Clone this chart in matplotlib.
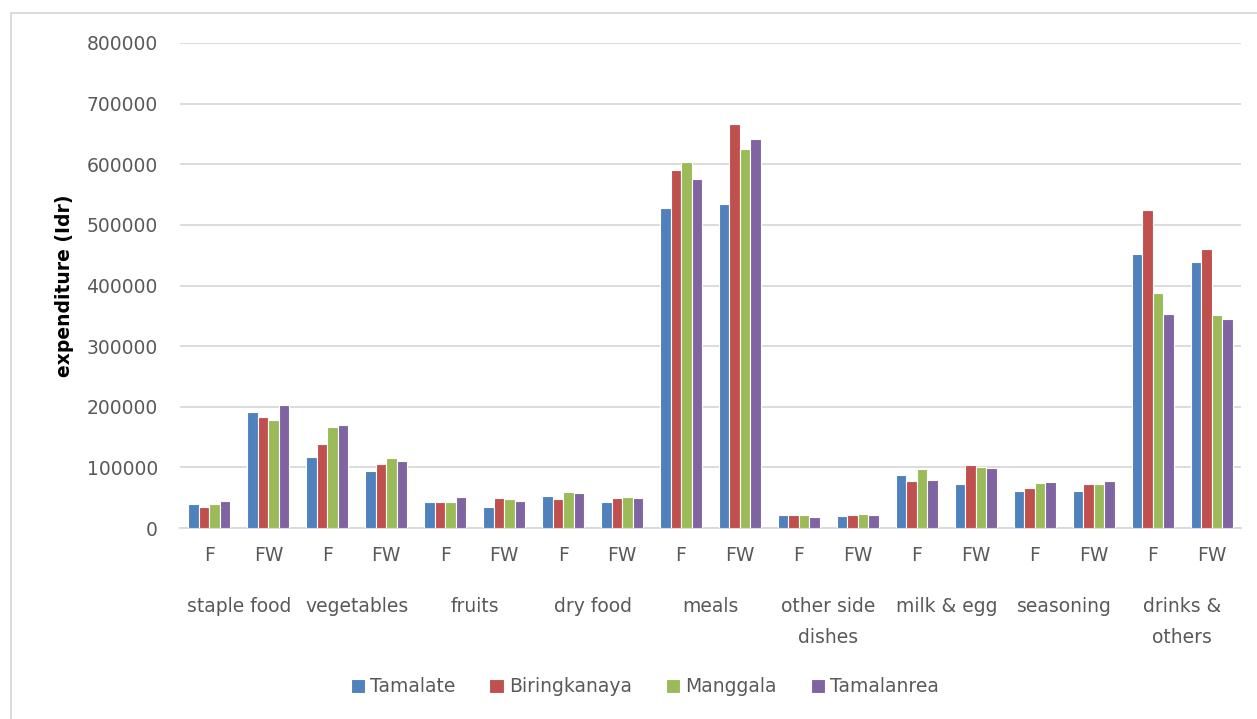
import numpy as np
import matplotlib
matplotlib.use("Agg")
import matplotlib.pyplot as plt
from matplotlib.patches import Rectangle

# food groups, each measured as F and FW
groups = ["staple food", "vegetables", "fruits", "dry food", "meals",
          "other side\ndishes", "milk & egg", "seasoning", "drinks &\nothers"]
sub_labels = ["F", "FW"]

districts = ["Tamalate", "Biringkanaya", "Manggala", "Tamalanrea"]
colors = ["#4F81BD", "#C0504D", "#9BBB59", "#8064A2"]

# expenditure per category (F, FW for each group in order)
tamalate = [40000, 190700, 117000, 94000, 43500, 34400, 52000, 43700, 527700,
            533700, 21300, 20200, 86900, 72100, 61200, 61700, 452300, 439100]
biringkanaya = [34500, 183000, 138000, 106000, 43500, 50000, 48600, 49000, 590000,
                666800, 21900, 21900, 78100, 104400, 66100, 73200, 524700, 460500]
manggala = [39000, 178000, 166000, 115500, 43500, 48000, 59500, 51000, 603300,
            625200, 20800, 22400, 96700, 100000, 74900, 72100, 387600, 352000]
tamalanrea = [44000, 203000, 170000, 111000, 51500, 45000, 58500, 50000, 575300,
              641600, 18000, 21900, 79200, 98400, 75400, 77600, 353600, 344800]
series = [tamalate, biringkanaya, manggala, tamalanrea]

TEXT = "#595959"
GRID = "#D9D9D9"
plt.rcParams["font.family"] = ["DejaVu Sans"]

fig = plt.figure(figsize=(12.57, 7.19), dpi=100)
ax = fig.add_axes([180 / 1257, 191 / 719, 1061 / 1257, 485 / 719])

n = len(tamalate)
x = np.arange(n)
w = 0.178
for i, (vals, c, name) in enumerate(zip(series, colors, districts)):
    ax.bar(x + (i - 1.5) * w, vals, width=w, color=c, edgecolor="white",
           linewidth=0.8, label=name, zorder=3)

ax.set_xlim(-0.5, n - 0.5)
ax.set_ylim(0, 800000)
ax.set_yticks(np.arange(0, 800001, 100000))
ax.yaxis.set_major_formatter(matplotlib.ticker.FuncFormatter(lambda v, p: "%d" % v))
ax.grid(axis="y", color=GRID, linewidth=1.3, zorder=0)
for s in ["left", "right", "top"]:
    ax.spines[s].set_visible(False)
ax.spines["bottom"].set_color(GRID)
ax.spines["bottom"].set_linewidth(1.3)
ax.tick_params(axis="y", length=0, pad=16, labelsize=13.5, labelcolor=TEXT)
ax.tick_params(axis="x", length=0, pad=13, labelsize=13.5, labelcolor=TEXT)
ax.set_xticks(x)
ax.set_xticklabels(sub_labels * len(groups))

# second row of category labels
for g, name in enumerate(groups):
    ax.annotate(name, xy=(2 * g + 0.5, 0), xycoords=ax.get_xaxis_transform(),
                xytext=(0, -50), textcoords="offset points", ha="center", va="top",
                fontsize=13.5, color=TEXT, linespacing=1.75)

ax.set_ylabel("expenditure (Idr)", fontsize=13.5, fontweight="bold", color="black")
ax.yaxis.set_label_coords(-106 / 1061, 0.5)

fig.legend(loc="center", bbox_to_anchor=(645 / 1257, 1 - 687 / 719), ncol=4,
           frameon=False, fontsize=13.5, handlelength=0.75, handleheight=0.75,
           handletextpad=0.3, columnspacing=1.8, labelcolor=TEXT)

fig.patches.append(Rectangle((11 / 1257, -0.05), 1.2, (719 - 13) / 719 + 0.05,
                             transform=fig.transFigure, fill=False,
                             edgecolor=GRID, linewidth=1.3))

fig.savefig("out.png", dpi=100)
